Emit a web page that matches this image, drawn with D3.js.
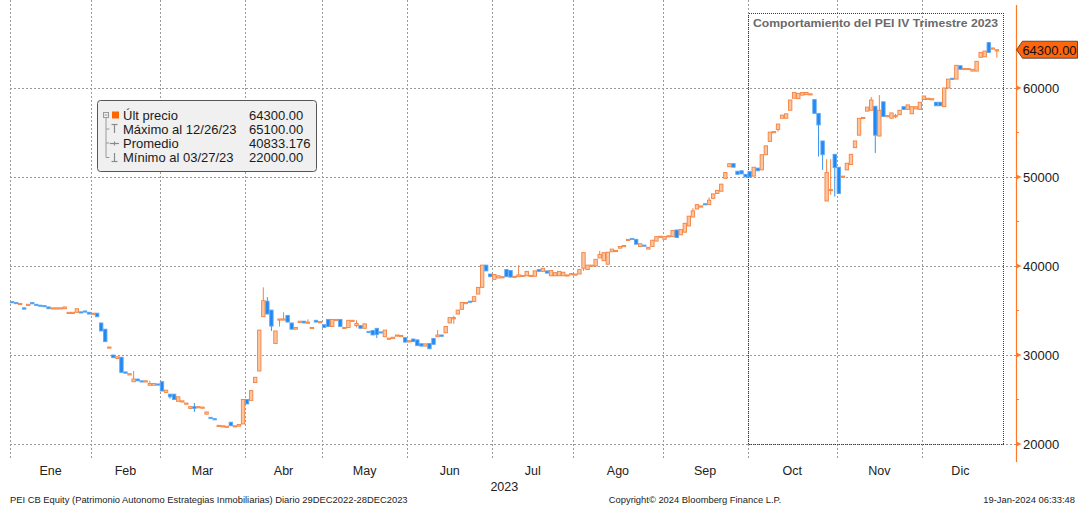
<!DOCTYPE html>
<html>
<head>
<meta charset="utf-8">
<script src="https://cdn.jsdelivr.net/npm/d3@7"></script>
<style>
    body { margin: 0; background: #fff; }
    text { font-family: "Liberation Sans", Arial, sans-serif; }
</style>
</head>
<body>
<div id="chart"></div>
<script>
/*
    Data
*/
// trading days per month, in order
const monthLabels = ["Ene", "Feb", "Mar", "Abr", "May", "Jun", "Jul", "Ago", "Sep", "Oct", "Nov", "Dic"];
const monthDays = [20, 17, 21, 19, 21, 21, 20, 22, 21, 22, 21, 19];

const opens = [
    // Ene
    36000, 35900, 35750, 35300, 35650, 35900, 35700, 35600, 35550, 35400, 35200, 35250, 35200, 35200, 34750, 34800, 34800, 34850, 34950, 34800,
    // Feb
    34650, 34700, 33600, 32900, 30850, 30000, 29600, 29750, 28100, 27750, 27000, 27300, 27100, 27050, 26600, 26600, 26750,
    // Mar
    27000, 25800, 25600, 25600, 24800, 24850, 24550, 24000, 24200, 24150, 24100, 23350, 23000, 22850, 22000, 22000, 22000, 22450, 22000, 22000, 22250,
    // Abr
    25000, 24900, 26900, 28200, 34300, 36050, 35050, 31300, 34000, 34000, 34450, 33600, 32900, 33800, 33800, 33600, 33050, 33900, 33700,
    // May
    33400, 34000, 33200, 33950, 34000, 33050, 33100, 33850, 33300, 33300, 33000, 32650, 32750, 33000, 32600, 32050, 31850, 31950, 32150, 32100, 31950,
    // Jun
    31550, 31800, 31700, 31270, 31000, 31300, 31850, 32050, 32250, 32500, 33600, 34150, 34600, 35130, 35850, 36050, 36000, 36850, 37600, 40100, 39100,
    // Jul
    38500, 38650, 38800, 39600, 39500, 38800, 38800, 38900, 38900, 38900, 38850, 39600, 39400, 39450, 38900, 38900, 38900, 38900, 38950, 39000,
    // Ago
    39050, 39100, 39750, 39600, 40050, 40000, 40900, 40600, 40200, 41600, 41700, 42000, 42250, 42900, 43100, 43000, 42200, 42350, 41900, 42200, 42800, 43300,
    // Sep
    43000, 43350, 43300, 44050, 43500, 43800, 44500, 45500, 46400, 46700, 47000, 46900, 47600, 48150, 48400, 49850, 51150, 51500, 50650, 50700, 50300,
    // Oct
    50600, 50100, 51000, 50800, 52500, 54000, 55050, 55350, 56600, 56600, 57500, 58850, 58800, 59200, 59250, 59250, 58700, 57150, 54050, 47300, 48500, 52550,
    // Nov
    51100, 50000, 50800, 51400, 53300, 54700, 56650, 57400, 57500, 57950, 54600, 58450, 56850, 56600, 56850, 57000, 57900, 57600, 57100, 57650, 57600,
    // Dic
    58700, 58750, 58800, 58400, 58400, 57900, 60000, 61100, 61000, 62500, 62150, 62200, 61900, 61900, 63450, 63500, 65100, 64450, 64300
];

const closes = [
    // Ene
    35900, 35800, 35800, 35150, 35700, 35750, 35600, 35500, 35450, 35200, 35300, 35300, 35300, 35400, 34800, 34800, 35200, 34800, 34850, 34600,
    // Feb
    34700, 34300, 32700, 31500, 30900, 29700, 29800, 28050, 27950, 27900, 27300, 27100, 27050, 27100, 26800, 26800, 26700,
    // Mar
    25950, 26050, 25300, 25000, 25300, 24850, 24600, 24200, 24000, 24200, 24150, 23600, 22900, 22800, 22100, 22050, 22000, 22050, 22050, 22200, 25000,
    // Abr
    24500, 26000, 27500, 32800, 36100, 34600, 33250, 32700, 34050, 34050, 33700, 32900, 33100, 33800, 33600, 33700, 33100, 33700, 33750,
    // May
    33100, 33200, 34000, 34000, 33200, 33100, 33900, 33900, 33550, 33000, 33500, 32600, 32250, 32300, 32500, 32800, 31900, 32000, 32250, 32200, 31450,
    // Jun
    31600, 31500, 31050, 31000, 31250, 30700, 31200, 32250, 32100, 33200, 34200, 34200, 35050, 35900, 35900, 36000, 36550, 37600, 40100, 39450, 38800,
    // Jul
    39050, 38900, 38800, 38800, 38750, 38850, 39000, 38950, 39400, 38950, 39450, 39400, 39750, 39200, 39500, 39250, 39400, 39300, 39000, 39150,
    // Ago
    39100, 39600, 41500, 40100, 40100, 40750, 41300, 41500, 41550, 41900, 41750, 42200, 42300, 43000, 43000, 42450, 42500, 42300, 42100, 42900, 43300, 43350,
    // Sep
    43300, 43400, 44000, 43200, 44100, 44800, 45600, 46200, 46900, 46750, 46900, 47400, 48100, 48500, 49200, 50500, 51500, 51100, 50300, 50350, 50000,
    // Oct
    50000, 51100, 50700, 52500, 53500, 55050, 55100, 55950, 56950, 57100, 58650, 59500, 59400, 59500, 59500, 59350, 57150, 55850, 52500, 50500, 48600, 51050,
    // Nov
    48150, 50100, 51550, 52550, 54050, 56600, 56700, 57850, 58650, 54700, 57500, 56800, 56900, 57200, 56900, 57500, 57600, 58100, 57900, 57900, 58400,
    // Dic
    59100, 58850, 58800, 58000, 58000, 60000, 61000, 60950, 62550, 62100, 62200, 62200, 62100, 63000, 64000, 64150, 64000, 64500, 64300
];

// days whose wick reaches past the body: [day index, low, high]
const wicks = [
    [30, null, 28200], [34, null, 27100], [39, 25100, null], [45, 23600, 24600],
    [62, null, 37600], [63, null, 36500], [64, 32700, null], [66, 33200, null], [67, null, 34800], [73, null, 34000],
    [85, 33100, 33900], [90, 31900, null], [105, null, 32800], [109, 33500, 34400], [125, null, 40100],
    [141, 39450, null], [145, null, 41700], [168, null, 46500], [172, null, 47700],
    [189, 55100, null], [199, 52300, null], [200, 50800, null], [201, null, 52000], [202, 48000, 52000], [203, 47800, null],
    [212, null, 59000], [213, 52700, null], [214, null, 59200], [218, 56600, 57100], [243, 63400, null]
];

const yTicks = [20000, 30000, 40000, 50000, 60000];
const yMinorTicks = [25000, 35000, 45000, 55000];
const lastPrice = 64300;

const legendLabels = ["Últ precio", "Máximo al 12/26/23", "Promedio", "Mínimo al 03/27/23"];
const legendValues = ["64300.00", "65100.00", "40833.176", "22000.00"];

const boxTitle = "Comportamiento del PEI IV Trimestre 2023";
const footerLeft = "PEI CB Equity (Patrimonio Autonomo Estrategias Inmobiliarias)  Diario 29DEC2022-28DEC2023";
const footerMid = "Copyright\u00A9 2024 Bloomberg Finance L.P.";
const footerRight = "19-Jan-2024 06:33:48";

/*
    Chart
*/
function main() {
    const width = 1080;
    const height = 508;
    const plotLeft = 10;
    const plotRight = 1016.5;
    const plotBottom = 460;

    const svg = d3.select("#chart")
        .append("svg")
        .attr("width", width)
        .attr("height", height)
        .style("display", "block");

    const monthStarts = [0, ...d3.cumsum(monthDays)];

    // Trading day scale (Bloomberg spaces days evenly)
    const xScale = d3.scaleLinear()
        .domain([0, 246])
        .range([plotLeft, 1007]);
    const yScale = d3.scaleLinear()
        .domain([20000, 60000])
        .range([444, 88]);

    // Grid
    const grid = svg.append("g").attr("stroke", "#9a9a9a").attr("stroke-dasharray", "2,2");
    grid.selectAll(".hgrid")
        .data(yTicks)
        .enter()
        .append("line")
        .attr("x1", plotLeft).attr("x2", plotRight)
        .attr("y1", d => Math.round(yScale(d)) + 0.5)
        .attr("y2", d => Math.round(yScale(d)) + 0.5);
    grid.selectAll(".vgrid")
        .data(monthStarts.slice(0, 12))
        .enter()
        .append("line")
        .attr("x1", d => Math.round(xScale(d)) + 0.5)
        .attr("x2", d => Math.round(xScale(d)) + 0.5)
        .attr("y1", 0).attr("y2", plotBottom);

    // Q4 highlight box
    const q4 = monthStarts[9];
    const boxX = Math.round(xScale(q4)) + 0.5;
    svg.append("rect")
        .attr("x", boxX)
        .attr("y", 13.5)
        .attr("width", 1003.5 - boxX)
        .attr("height", Math.round(yScale(20000)) + 0.5 - 13.5)
        .attr("fill", "none")
        .attr("stroke", "#3a3a3a")
        .attr("stroke-width", 1.4)
        .attr("stroke-dasharray", "1,1")
        .attr("shape-rendering", "crispEdges");
    svg.append("text")
        .attr("x", boxX + 4.5)
        .attr("y", 27)
        .attr("textLength", 245)
        .attr("lengthAdjust", "spacingAndGlyphs")
        .style("font-size", "11.5px")
        .style("font-weight", "bold")
        .attr("fill", "#6a6a6a")
        .text(boxTitle);

    // Candles
    const wickMap = new Map(wicks.map(w => [w[0], w]));
    const candles = opens.map((o, i) => {
        const c = closes[i];
        const w = wickMap.get(i);
        let lo = Math.min(o, c), hi = Math.max(o, c);
        if (w && w[1] != null) lo = Math.min(lo, w[1]);
        if (w && w[2] != null) hi = Math.max(hi, w[2]);
        return { i, o, c, lo, hi, up: c >= o };
    });
    const bodyW = 3.4;
    const cg = svg.selectAll(".candle")
        .data(candles)
        .enter()
        .append("g")
        .attr("class", "candle")
        .attr("transform", d => `translate(${xScale(d.i + 0.5)}, 0)`);
    cg.append("line")
        .attr("y1", d => yScale(d.hi))
        .attr("y2", d => yScale(d.lo))
        .attr("stroke", d => d.up ? "#f5823d" : "#3a94f2")
        .attr("stroke-width", 1);
    cg.append("rect")
        .attr("x", -bodyW / 2)
        .attr("width", bodyW)
        .attr("y", d => yScale(Math.max(d.o, d.c)))
        .attr("height", d => Math.max(1.2, Math.abs(yScale(d.o) - yScale(d.c))))
        .attr("fill", d => d.up ? "#fcc5a2" : "#1f88f2")
        .attr("stroke", d => d.up ? "#f5823d" : "#5ea8f5")
        .attr("stroke-width", 0.9);

    // Right axis
    const axisColor = "#ff7a26";
    svg.append("line")
        .attr("x1", plotRight).attr("x2", plotRight)
        .attr("y1", 5).attr("y2", 462)
        .attr("stroke", axisColor).attr("stroke-width", 1.2);
    svg.selectAll(".ytick")
        .data(yTicks)
        .enter()
        .append("path")
        .attr("d", d => `M${plotRight},${yScale(d) - 2.5}L${plotRight + 5},${yScale(d)}L${plotRight},${yScale(d) + 2.5}Z`)
        .attr("fill", axisColor);
    svg.selectAll(".yminor")
        .data(yMinorTicks)
        .enter()
        .append("line")
        .attr("x1", plotRight).attr("x2", plotRight + 2.5)
        .attr("y1", d => yScale(d)).attr("y2", d => yScale(d))
        .attr("stroke", axisColor);
    svg.selectAll(".ylabel")
        .data(yTicks)
        .enter()
        .append("text")
        .attr("x", plotRight + 6.5)
        .attr("y", d => yScale(d) + 4.8)
        .style("font-size", "13px")
        .attr("fill", "#1a1a1a")
        .text(d => d);

    // Last price tag
    const ly = yScale(lastPrice);
    svg.append("path")
        .attr("d", `M${plotRight},${ly}L${plotRight + 6},${ly - 8.5}L1077.5,${ly - 8.5}L1077.5,${ly + 8.5}L${plotRight + 6},${ly + 8.5}Z`)
        .attr("fill", "#ff650d")
        .attr("stroke", "#333")
        .attr("stroke-width", 0.8);
    svg.append("text")
        .attr("x", 1049.5)
        .attr("y", ly + 4.8)
        .attr("text-anchor", "middle")
        .style("font-size", "13px")
        .attr("fill", "#111")
        .text(lastPrice.toFixed(2));

    // Month labels
    svg.selectAll(".mlabel")
        .data(monthLabels)
        .enter()
        .append("text")
        .attr("x", (d, i) => xScale((monthStarts[i] + monthStarts[i + 1]) / 2))
        .attr("y", 475)
        .attr("text-anchor", "middle")
        .style("font-size", "12.5px")
        .attr("fill", "#222")
        .text(d => d);
    svg.append("text")
        .attr("x", xScale(monthStarts[6]) + 12)
        .attr("y", 491)
        .attr("text-anchor", "middle")
        .style("font-size", "12.5px")
        .attr("fill", "#222")
        .text("2023");

    // Legend box
    const lg = svg.append("g");
    lg.append("rect")
        .attr("x", 97.5).attr("y", 100.5)
        .attr("width", 219).attr("height", 71)
        .attr("rx", 3)
        .attr("fill", "#f0f0f0")
        .attr("stroke", "#555");
    const rowY = [115, 129, 143, 157.5];
    // tree lines
    const tree = lg.append("g").attr("stroke", "#9a9a9a").attr("fill", "none");
    tree.append("rect").attr("x", 103.5).attr("y", 112.5).attr("width", 5).attr("height", 5);
    tree.append("line").attr("x1", 104.5).attr("x2", 107.5).attr("y1", 115).attr("y2", 115);
    tree.append("line").attr("x1", 106).attr("x2", 106).attr("y1", 118).attr("y2", rowY[3]);
    rowY.slice(1).forEach(y => {
        tree.append("line").attr("x1", 106).attr("x2", 109.5).attr("y1", y).attr("y2", y);
    });
    lg.append("rect")
        .attr("x", 112).attr("y", 111.5)
        .attr("width", 7).attr("height", 7)
        .attr("fill", "#ff6600");
    const sym = lg.append("g").attr("stroke", "#8a8a8a").attr("stroke-width", 1.2);
    sym.append("line").attr("x1", 111.5).attr("x2", 117.5).attr("y1", 124.5).attr("y2", 124.5);
    sym.append("line").attr("x1", 114.5).attr("x2", 114.5).attr("y1", 124.5).attr("y2", 133);
    sym.append("line").attr("x1", 110).attr("x2", 119).attr("y1", 143.5).attr("y2", 143.5);
    sym.append("line").attr("x1", 114.5).attr("x2", 114.5).attr("y1", 141.5).attr("y2", 145.5);
    sym.append("line").attr("x1", 114.5).attr("x2", 114.5).attr("y1", 153).attr("y2", 161.5);
    sym.append("line").attr("x1", 111.5).attr("x2", 117.5).attr("y1", 161.5).attr("y2", 161.5);
    lg.selectAll(".lglabel")
        .data(legendLabels)
        .enter()
        .append("text")
        .attr("x", 123)
        .attr("y", (d, i) => rowY[i] + 4.7)
        .style("font-size", "13px")
        .attr("fill", "#1a1a1a")
        .text(d => d);
    lg.selectAll(".lgvalue")
        .data(legendValues)
        .enter()
        .append("text")
        .attr("x", 249)
        .attr("y", (d, i) => rowY[i] + 4.7)
        .style("font-size", "13px")
        .attr("fill", "#1a1a1a")
        .text(d => d);

    // Footer
    const foot = svg.append("g").style("font-size", "9.4px").attr("fill", "#222");
    foot.append("text").attr("x", 10).attr("y", 503).text(footerLeft);
    foot.append("text").attr("x", 695).attr("y", 503).attr("text-anchor", "middle").text(footerMid);
    foot.append("text").attr("x", 1075).attr("y", 503).attr("text-anchor", "end").text(footerRight);
}

main()
</script>
</body>
</html>
